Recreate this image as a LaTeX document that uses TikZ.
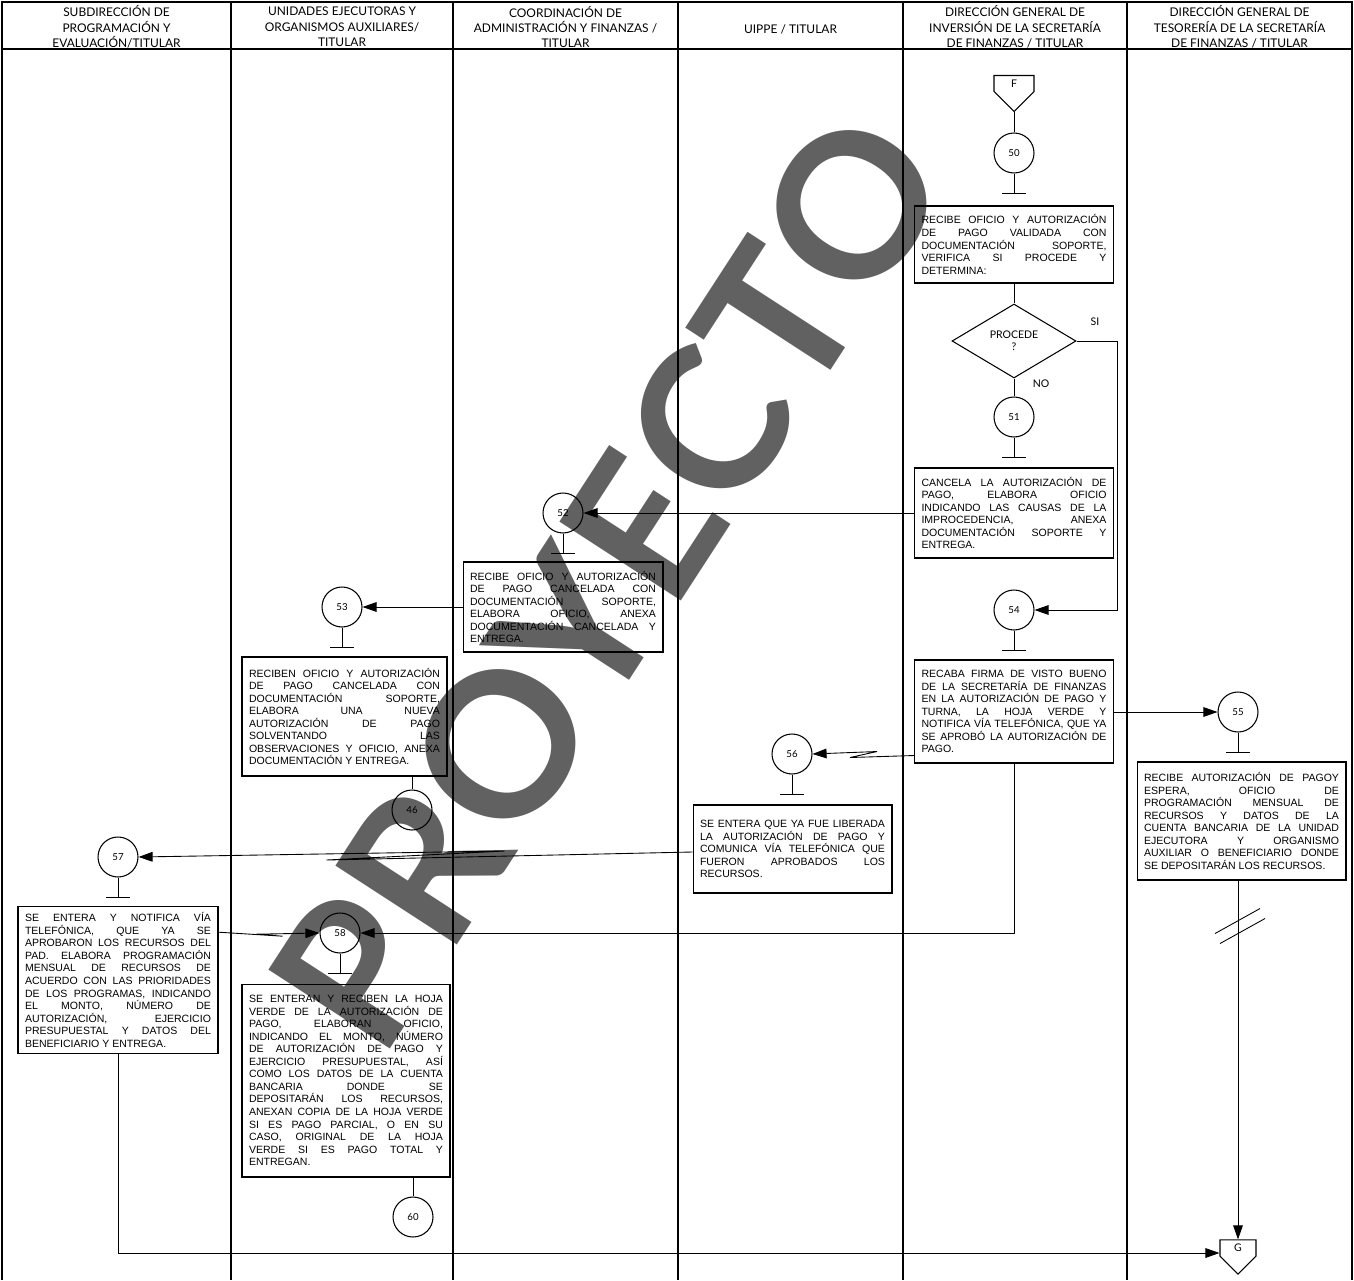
\documentclass[tikz,border=0pt]{standalone}
\usepackage{fontspec}
\setmainfont{Liberation Sans}
\newfontfamily\gill{Lato}
\usetikzlibrary{shapes.geometric, shapes.symbols, arrows.meta, positioning, calc}

\begin{document}
\begin{tikzpicture}[
  x=0.02cm, y=-0.02cm,
  lane/.style={line width=0.7pt},
  head/.style={align=center, font=\gill\fontsize{6.8}{8.8}\selectfont},
  proc/.style={rectangle, draw, line width=0.6pt, align=justify, inner xsep=0.14cm, font=\fontsize{6}{7.15}\selectfont},
  circ/.style={circle, draw, line width=0.6pt, minimum size=0.8cm, inner sep=0pt, font=\gill\fontsize{5.5}{6}\selectfont},
  offpage/.style={signal, signal to=south, signal pointer angle=90, draw, line width=0.6pt, inner sep=0pt, font=\gill\fontsize{6}{7}\selectfont},
  decision/.style={diamond, draw, line width=0.6pt, minimum width=2.48cm, minimum height=1.48cm, inner sep=0pt, align=center, font=\gill\fontsize{6}{7}\selectfont},
  lbl/.style={font=\gill\fontsize{6}{7}\selectfont},
  link/.style={line width=0.5pt},
  arrow/.style={-{Triangle[length=8pt, width=5.5pt]}, line width=0.5pt}
  ]
  \useasboundingbox (0,0) rectangle (1354,1280);

  % marca de agua
  \node[rotate=57, text=black!62, font=\gill\bfseries\fontsize{114}{114}\selectfont] (wm) at (608,580) {PROYECTO};

  % carriles
  \draw[lane] (2,1280) -- (2,2) -- (1352,2) -- (1352,1280);
  \draw[lane] (2,49) -- (1352,49);
  \foreach \x in {231,453,678,903,1127}
    \draw[lane] (\x,2) -- (\x,1280);

  \node[head] (h1) at (116.5,27) {SUBDIRECCIÓN DE\\PROGRAMACIÓN Y\\EVALUACIÓN/TITULAR};
  \node[head] (h2) at (342,27) {UNIDADES EJECUTORAS Y\\ORGANISMOS AUXILIARES/\\TITULAR};
  \node[head] (h3) at (565.5,27) {COORDINACIÓN DE\\ADMINISTRACIÓN Y FINANZAS /\\TITULAR};
  \node[head] (h4) at (790.5,29) {UIPPE / TITULAR};
  \node[head] (h5) at (1015,27) {DIRECCIÓN GENERAL DE\\INVERSIÓN DE LA SECRETARÍA\\DE FINANZAS / TITULAR};
  \node[head] (h6) at (1239.5,27) {DIRECCIÓN GENERAL DE\\TESORERÍA DE LA SECRETARÍA\\DE FINANZAS / TITULAR};

  % actividades
  \node[offpage, minimum width=0.8cm, minimum height=0.38cm] (F) at (1014,83.5) {F};
  \node[circ] (c50) at (1014,153) {50};
  \node[proc, text width=3.70cm, minimum height=1.54cm] (b50) at (1014,244.5) {RECIBE OFICIO Y AUTORIZACIÓN\linebreak DE PAGO VALIDADA CON\linebreak DOCUMENTACIÓN SOPORTE,\linebreak VERIFICA SI PROCEDE Y\linebreak DETERMINA:};
  \node[decision] (d1) at (1014,341) {PROCEDE\\?};
  \node[lbl] (si) at (1095,322) {SI};
  \node[lbl] (no) at (1041,384) {NO};
  \node[circ] (c51) at (1014,417) {51};
  \node[proc, text width=3.70cm, minimum height=1.80cm] (b51) at (1014,513) {CANCELA LA AUTORIZACIÓN DE\linebreak PAGO, ELABORA OFICIO\linebreak INDICANDO LAS CAUSAS DE LA\linebreak IMPROCEDENCIA, ANEXA\linebreak DOCUMENTACIÓN SOPORTE Y\linebreak ENTREGA.};
  \node[circ] (c52) at (563,513) {52};
  \node[proc, text width=3.72cm, minimum height=1.80cm] (b52) at (563,607) {RECIBE OFICIO Y AUTORIZACIÓN\linebreak DE PAGO CANCELADA CON\linebreak DOCUMENTACIÓN SOPORTE,\linebreak ELABORA OFICIO, ANEXA\linebreak DOCUMENTACIÓN CANCELADA Y\linebreak ENTREGA.};
  \node[circ] (c53) at (342,607) {53};
  \node[proc, text width=3.82cm, minimum height=2.38cm] (b53) at (344.5,716.5) {RECIBEN OFICIO Y AUTORIZACIÓN\linebreak DE PAGO CANCELADA CON\linebreak DOCUMENTACIÓN SOPORTE,\linebreak ELABORA UNA NUEVA\linebreak AUTORIZACIÓN DE PAGO\linebreak SOLVENTANDO LAS\linebreak OBSERVACIONES Y OFICIO, ANEXA\linebreak DOCUMENTACIÓN Y ENTREGA.};
  \node[circ] (c46) at (412,810) {46};
  \node[circ] (c54) at (1014,610) {54};
  \node[proc, text width=3.70cm, minimum height=2.06cm] (b54) at (1014,711.5) {RECABA FIRMA DE VISTO BUENO\linebreak DE LA SECRETARÍA DE FINANZAS\linebreak EN LA AUTORIZACIÓN DE PAGO Y\linebreak TURNA, LA HOJA VERDE Y\linebreak NOTIFICA VÍA TELEFÓNICA, QUE YA\linebreak SE APROBÓ LA AUTORIZACIÓN DE\linebreak PAGO.};
  \node[circ] (c55) at (1238,712) {55};
  \node[proc, text width=3.90cm, minimum height=2.36cm] (b55) at (1241.5,821) {RECIBE AUTORIZACIÓN DE PAGOY\linebreak ESPERA, OFICIO DE\linebreak PROGRAMACIÓN MENSUAL DE\linebreak RECURSOS Y DATOS DE LA\linebreak CUENTA BANCARIA DE LA UNIDAD\linebreak EJECUTORA Y ORGANISMO\linebreak AUXILIAR O BENEFICIARIO DONDE\linebreak SE DEPOSITARÁN LOS RECURSOS.};
  \node[circ] (c56) at (792,754) {56};
  \node[proc, text width=3.70cm, minimum height=1.76cm] (b56) at (792.5,849) {SE ENTERA QUE YA FUE LIBERADA\linebreak LA AUTORIZACIÓN DE PAGO Y\linebreak COMUNICA VÍA TELEFÓNICA QUE\linebreak FUERON APROBADOS LOS\linebreak RECURSOS.};
  \node[circ] (c57) at (118,857) {57};
  \node[proc, text width=3.72cm, minimum height=2.92cm] (b57) at (118,980) {SE ENTERA Y NOTIFICA VÍA\linebreak TELEFÓNICA, QUE YA SE\linebreak APROBARON LOS RECURSOS DEL\linebreak PAD. ELABORA PROGRAMACIÓN\linebreak MENSUAL DE RECURSOS DE\linebreak ACUERDO CON LAS PRIORIDADES\linebreak DE LOS PROGRAMAS, INDICANDO\linebreak EL MONTO, NÚMERO DE\linebreak AUTORIZACIÓN, EJERCICIO\linebreak PRESUPUESTAL Y DATOS DEL\linebreak BENEFICIARIO Y ENTREGA.};
  \node[circ] (c58) at (340,933) {58};
  \node[proc, text width=3.88cm, minimum height=3.86cm] (b58) at (346,1080.5) {SE ENTERAN Y RECIBEN LA HOJA\linebreak VERDE DE LA AUTORIZACIÓN DE\linebreak PAGO, ELABORAN OFICIO,\linebreak INDICANDO EL MONTO, NÚMERO\linebreak DE AUTORIZACIÓN DE PAGO Y\linebreak EJERCICIO PRESUPUESTAL, ASÍ\linebreak COMO LOS DATOS DE LA CUENTA\linebreak BANCARIA DONDE SE\linebreak DEPOSITARÁN LOS RECURSOS,\linebreak ANEXAN COPIA DE LA HOJA VERDE\linebreak SI ES PAGO PARCIAL, O EN SU\linebreak CASO, ORIGINAL DE LA HOJA\linebreak VERDE SI ES PAGO TOTAL Y\linebreak ENTREGAN.};
  \node[circ] (c60) at (413,1217) {60};
  \node[offpage, minimum width=0.72cm, minimum height=0.40cm] (G) at (1238,1248) {G};

  % remates bajo los conectores
  \foreach \c in {c50,c51,c52,c53,c54,c55,c56,c57,c58}
    \draw[link] (\c.south) -- ++(0,20) ++(-12,0) -- ++(24,0);

  % flujo
  \draw[link] (F.south) -- (c50.north);
  \draw[link] (b50) -- (d1);
  \draw[link] (d1.south) -- (c51.north);
  \draw[arrow] (d1.east) -- ++(41,0) |- (c54.east);
  \draw[arrow] (b51.west) -- (c52.east);
  \draw[arrow] (b52.west) -- (c53.east);
  \draw[link] (c46 |- b53.south) -- (c46.north);
  \draw[arrow] (b54.east |- c55) -- (c55.west);
  \draw[arrow] ($(b54.south west)+(0,-8)$) -- ++(-64,2) -- ++(27,-6) -- (c56.east);
  \draw[arrow] ($(b56.west)+(0,3)$) -- ++(-366,8) -- ++(178,-9) -- (c57.east);
  \draw[arrow] ($(b57.north east)+(0,26)$) -- ++(64,4) -- ++(-26,-2) -- (c58.west);
  \draw[arrow] (b54.south) |- (c58.east);
  \draw[link] (c60 |- b58.south) -- (c60.north);
  \draw[arrow] (G |- b55.south) -- (G.north);
  \path (G |- b55.south) ++(0,45) coordinate (brk);
  \draw[link] (brk) ++(-23,8) -- ++(45,-25);
  \draw[link] (brk) ++(-18,18) -- ++(45,-25);
  \draw[arrow] (b57.south) |- ($(G.west)+(0,5)$);
\end{tikzpicture}
\end{document}
